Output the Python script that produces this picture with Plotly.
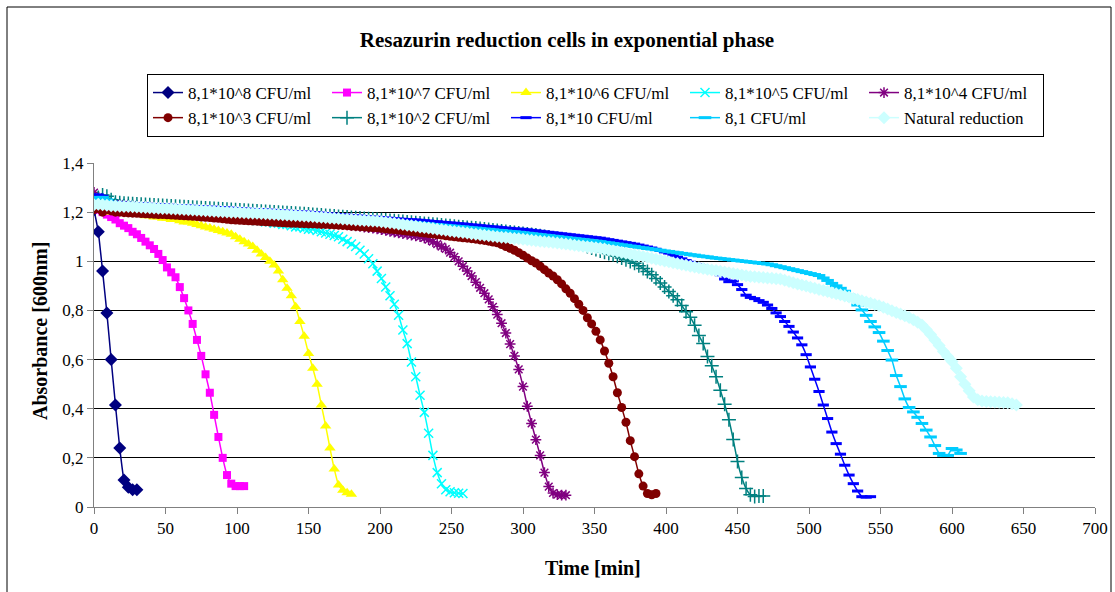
import plotly.graph_objects as go

# ---------------- data (absorbance read every 3 min) ----------------
STEP_MIN = 3

SERIES_NAMES = [
    "8,1*10^8 CFU/ml", "8,1*10^7 CFU/ml", "8,1*10^6 CFU/ml", "8,1*10^5 CFU/ml",
    "8,1*10^4 CFU/ml", "8,1*10^3 CFU/ml", "8,1*10^2 CFU/ml", "8,1*10 CFU/ml",
    "8,1 CFU/ml", "Natural reduction",
]

ABS_E8 = [1.21, 1.12, 0.96, 0.79, 0.60, 0.415, 0.24, 0.11, 0.08, 0.07, 0.07]

ABS_E7 = [1.22, 1.21, 1.20, 1.19, 1.18, 1.17, 1.155, 1.145, 1.135, 1.12, 1.11, 1.095,
          1.08, 1.065, 1.05, 1.03, 1.005, 0.975, 0.955, 0.935, 0.895, 0.85, 0.80, 0.745,
          0.68, 0.615, 0.54, 0.465, 0.375, 0.285, 0.20, 0.13, 0.095, 0.085, 0.085, 0.085]

ABS_E6 = [1.22, 1.21, 1.21, 1.205, 1.20, 1.20, 1.20, 1.195, 1.195, 1.19, 1.19, 1.19,
          1.185, 1.185, 1.18, 1.18, 1.175, 1.175, 1.17, 1.17, 1.165, 1.16, 1.16, 1.155,
          1.15, 1.145, 1.14, 1.135, 1.13, 1.125, 1.12, 1.115, 1.11, 1.10, 1.09, 1.08,
          1.07, 1.06, 1.045, 1.03, 1.015, 1.0, 0.985, 0.96, 0.925, 0.89, 0.86, 0.815,
          0.755, 0.695, 0.625, 0.565, 0.50, 0.415, 0.33, 0.24, 0.155, 0.09, 0.068, 0.058,
          0.052]

ABS_E5 = [1.26, 1.26, 1.25, 1.24, 1.24, 1.235, 1.235, 1.23, 1.23, 1.23, 1.225, 1.225,
          1.225, 1.22, 1.22, 1.22, 1.215, 1.215, 1.21, 1.21, 1.21, 1.205, 1.205, 1.20,
          1.20, 1.20, 1.195, 1.195, 1.19, 1.19, 1.185, 1.185, 1.18, 1.18, 1.175, 1.175,
          1.17, 1.17, 1.165, 1.165, 1.16, 1.16, 1.155, 1.155, 1.15, 1.15, 1.145, 1.14,
          1.14, 1.135, 1.13, 1.13, 1.125, 1.12, 1.115, 1.11, 1.105, 1.10, 1.09, 1.08,
          1.07, 1.06, 1.045, 1.03, 1.01, 0.99, 0.96, 0.93, 0.895, 0.86, 0.825, 0.78,
          0.72, 0.665, 0.59, 0.53, 0.455, 0.385, 0.30, 0.21, 0.14, 0.095, 0.07, 0.062,
          0.058, 0.056, 0.055]

ABS_E4 = [1.28, 1.26, 1.245, 1.24, 1.237, 1.235, 1.233, 1.231, 1.229, 1.228, 1.226, 1.225,
          1.223, 1.222, 1.22, 1.219, 1.217, 1.216, 1.214, 1.213, 1.211, 1.21, 1.208, 1.207,
          1.205, 1.204, 1.202, 1.201, 1.199, 1.198, 1.196, 1.195, 1.193, 1.192, 1.19, 1.189,
          1.187, 1.186, 1.184, 1.183, 1.181, 1.18, 1.178, 1.177, 1.175, 1.174, 1.172, 1.171,
          1.169, 1.168, 1.166, 1.164, 1.162, 1.16, 1.158, 1.156, 1.154, 1.152, 1.15, 1.148,
          1.146, 1.144, 1.142, 1.139, 1.137, 1.135, 1.132, 1.129, 1.126, 1.122, 1.119, 1.116,
          1.113, 1.11, 1.107, 1.104, 1.10, 1.095, 1.088, 1.08, 1.07, 1.06, 1.05, 1.035,
          1.018, 1.0, 0.98, 0.96, 0.94, 0.915, 0.892, 0.87, 0.845, 0.815, 0.783, 0.748,
          0.708, 0.663, 0.615, 0.56, 0.49, 0.41, 0.34, 0.274, 0.21, 0.14, 0.083, 0.057,
          0.05, 0.048, 0.048]

ABS_E3 = [1.21, 1.215, 1.20, 1.21, 1.205, 1.20, 1.20, 1.198, 1.197, 1.196, 1.195, 1.194,
          1.193, 1.192, 1.191, 1.19, 1.19, 1.189, 1.188, 1.187, 1.186, 1.185, 1.184, 1.183,
          1.182, 1.18, 1.179, 1.178, 1.176, 1.175, 1.173, 1.171, 1.169, 1.168, 1.167, 1.166,
          1.165, 1.164, 1.163, 1.162, 1.161, 1.16, 1.159, 1.158, 1.157, 1.156, 1.155, 1.155,
          1.154, 1.153, 1.152, 1.152, 1.151, 1.15, 1.15, 1.149, 1.148, 1.147, 1.146, 1.145,
          1.143, 1.142, 1.141, 1.14, 1.138, 1.137, 1.136, 1.134, 1.132, 1.13, 1.129, 1.127,
          1.125, 1.123, 1.121, 1.119, 1.117, 1.115, 1.113, 1.111, 1.109, 1.107, 1.104, 1.102,
          1.10, 1.098, 1.096, 1.094, 1.092, 1.09, 1.087, 1.085, 1.082, 1.078, 1.075, 1.068,
          1.06, 1.053, 1.045, 1.035, 1.025, 1.013, 1.002, 0.993, 0.98, 0.966, 0.952, 0.94,
          0.925, 0.908, 0.888, 0.87, 0.848, 0.825, 0.80, 0.77, 0.745, 0.715, 0.68, 0.635,
          0.585, 0.53, 0.465, 0.405, 0.345, 0.27, 0.205, 0.135, 0.085, 0.055, 0.05, 0.055]

ABS_E2 = [1.25, 1.26, 1.27, 1.265, 1.25, 1.24, 1.238, 1.236, 1.235, 1.234, 1.233, 1.232,
          1.231, 1.23, 1.229, 1.228, 1.227, 1.226, 1.225, 1.224, 1.223, 1.222, 1.221, 1.22,
          1.219, 1.218, 1.217, 1.216, 1.215, 1.214, 1.213, 1.212, 1.211, 1.21, 1.209, 1.208,
          1.207, 1.206, 1.205, 1.204, 1.203, 1.202, 1.201, 1.20, 1.199, 1.198, 1.197, 1.196,
          1.194, 1.193, 1.192, 1.19, 1.189, 1.188, 1.186, 1.185, 1.184, 1.182, 1.181, 1.18,
          1.178, 1.177, 1.176, 1.174, 1.173, 1.172, 1.17, 1.169, 1.168, 1.166, 1.165, 1.163,
          1.162, 1.16, 1.159, 1.157, 1.156, 1.154, 1.153, 1.151, 1.15, 1.148, 1.146, 1.145,
          1.143, 1.141, 1.14, 1.138, 1.136, 1.135, 1.133, 1.131, 1.129, 1.127, 1.125, 1.123,
          1.121, 1.119, 1.117, 1.115, 1.113, 1.111, 1.109, 1.107, 1.104, 1.101, 1.098, 1.095,
          1.092, 1.089, 1.086, 1.082, 1.077, 1.072, 1.066, 1.06, 1.054, 1.048, 1.042, 1.037,
          1.032, 1.027, 1.02, 1.013, 1.006, 0.999, 0.992, 0.982, 0.971, 0.958, 0.945, 0.93,
          0.912, 0.895, 0.877, 0.86, 0.843, 0.82, 0.795, 0.772, 0.74, 0.698, 0.665, 0.612,
          0.575, 0.53, 0.475, 0.418, 0.355, 0.275, 0.185, 0.12, 0.075, 0.05, 0.043, 0.045,
          0.045]

ABS_E1 = [1.27, 1.27, 1.265, 1.245, 1.24, 1.24, 1.238, 1.237, 1.236, 1.235, 1.235, 1.234,
          1.233, 1.232, 1.231, 1.23, 1.23, 1.229, 1.228, 1.227, 1.226, 1.225, 1.225, 1.224,
          1.223, 1.222, 1.221, 1.22, 1.22, 1.219, 1.218, 1.217, 1.216, 1.215, 1.214, 1.213,
          1.212, 1.211, 1.21, 1.21, 1.209, 1.208, 1.207, 1.206, 1.205, 1.204, 1.203, 1.202,
          1.201, 1.20, 1.20, 1.198, 1.197, 1.196, 1.194, 1.193, 1.192, 1.19, 1.189, 1.188,
          1.186, 1.185, 1.184, 1.182, 1.181, 1.18, 1.179, 1.178, 1.176, 1.175, 1.173, 1.172,
          1.171, 1.17, 1.169, 1.168, 1.167, 1.165, 1.164, 1.162, 1.161, 1.159, 1.158, 1.156,
          1.155, 1.153, 1.152, 1.15, 1.148, 1.147, 1.145, 1.143, 1.142, 1.14, 1.139, 1.137,
          1.135, 1.134, 1.132, 1.131, 1.13, 1.128, 1.126, 1.124, 1.122, 1.12, 1.118, 1.116,
          1.114, 1.112, 1.11, 1.108, 1.106, 1.104, 1.102, 1.10, 1.098, 1.096, 1.094, 1.091,
          1.088, 1.085, 1.082, 1.079, 1.076, 1.073, 1.07, 1.066, 1.062, 1.058, 1.054, 1.049,
          1.044, 1.038, 1.033, 1.025, 1.017, 1.01, 1.003, 0.996, 0.99, 0.985, 0.98, 0.975,
          0.97, 0.96, 0.945, 0.928, 0.917, 0.92, 0.905, 0.885, 0.862, 0.853, 0.848, 0.84,
          0.833, 0.822, 0.808, 0.79, 0.775, 0.755, 0.735, 0.712, 0.688, 0.66, 0.62, 0.57,
          0.52, 0.47, 0.415, 0.36, 0.305, 0.258, 0.215, 0.17, 0.13, 0.095, 0.065, 0.042,
          0.04, 0.042]

ABS_E0 = [1.25, 1.26, 1.26, 1.25, 1.24, 1.237, 1.235, 1.234, 1.233, 1.232, 1.231, 1.23,
          1.229, 1.228, 1.227, 1.226, 1.225, 1.224, 1.223, 1.222, 1.221, 1.22, 1.219, 1.218,
          1.217, 1.216, 1.215, 1.214, 1.213, 1.212, 1.211, 1.21, 1.209, 1.208, 1.207, 1.206,
          1.205, 1.204, 1.203, 1.202, 1.201, 1.20, 1.199, 1.198, 1.197, 1.196, 1.195, 1.194,
          1.193, 1.192, 1.19, 1.189, 1.188, 1.186, 1.185, 1.184, 1.182, 1.181, 1.18, 1.178,
          1.177, 1.176, 1.174, 1.173, 1.172, 1.17, 1.169, 1.167, 1.166, 1.165, 1.163, 1.162,
          1.16, 1.159, 1.158, 1.156, 1.155, 1.153, 1.152, 1.15, 1.149, 1.147, 1.146, 1.144,
          1.143, 1.141, 1.14, 1.138, 1.136, 1.135, 1.133, 1.131, 1.13, 1.128, 1.126, 1.125,
          1.123, 1.121, 1.12, 1.118, 1.116, 1.114, 1.112, 1.11, 1.108, 1.106, 1.104, 1.102,
          1.10, 1.098, 1.096, 1.094, 1.092, 1.09, 1.088, 1.086, 1.084, 1.082, 1.08, 1.077,
          1.075, 1.072, 1.07, 1.067, 1.065, 1.062, 1.06, 1.057, 1.055, 1.052, 1.05, 1.047,
          1.045, 1.042, 1.04, 1.037, 1.035, 1.032, 1.03, 1.027, 1.025, 1.022, 1.02, 1.018,
          1.015, 1.013, 1.011, 1.009, 1.007, 1.005, 1.003, 1.001, 0.999, 0.997, 0.995, 0.993,
          0.991, 0.989, 0.986, 0.982, 0.978, 0.974, 0.97, 0.966, 0.962, 0.958, 0.954, 0.95,
          0.946, 0.942, 0.932, 0.922, 0.91, 0.90, 0.89, 0.878, 0.862, 0.843, 0.822, 0.802,
          0.78, 0.755, 0.733, 0.71, 0.675, 0.637, 0.598, 0.535, 0.49, 0.44, 0.405, 0.387,
          0.365, 0.34, 0.313, 0.285, 0.25, 0.218, 0.21, 0.21, 0.238, 0.232, 0.218]

ABS_NATURAL = [1.23, 1.232, 1.23, 1.228, 1.226, 1.225, 1.224, 1.223, 1.223, 1.222, 1.221, 1.22,
               1.219, 1.218, 1.217, 1.216, 1.215, 1.215, 1.214, 1.213, 1.212, 1.211, 1.21, 1.209,
               1.208, 1.207, 1.206, 1.205, 1.204, 1.203, 1.202, 1.201, 1.20, 1.20, 1.199, 1.198,
               1.197, 1.196, 1.195, 1.194, 1.193, 1.192, 1.191, 1.19, 1.189, 1.188, 1.187, 1.186,
               1.185, 1.184, 1.183, 1.182, 1.18, 1.179, 1.178, 1.176, 1.175, 1.174, 1.172, 1.171,
               1.17, 1.168, 1.167, 1.166, 1.165, 1.164, 1.163, 1.161, 1.159, 1.157, 1.155, 1.152,
               1.15, 1.147, 1.145, 1.143, 1.14, 1.138, 1.135, 1.133, 1.13, 1.128, 1.126, 1.123,
               1.121, 1.119, 1.117, 1.115, 1.112, 1.11, 1.108, 1.106, 1.104, 1.102, 1.10, 1.098,
               1.097, 1.095, 1.093, 1.092, 1.09, 1.088, 1.086, 1.084, 1.082, 1.08, 1.078, 1.076,
               1.074, 1.072, 1.07, 1.068, 1.065, 1.063, 1.061, 1.059, 1.057, 1.055, 1.053, 1.05,
               1.046, 1.043, 1.04, 1.036, 1.033, 1.029, 1.026, 1.022, 1.019, 1.015, 1.012, 1.008,
               1.005, 1.001, 0.998, 0.994, 0.991, 0.987, 0.984, 0.98, 0.977, 0.974, 0.971, 0.968,
               0.965, 0.962, 0.959, 0.956, 0.953, 0.95, 0.947, 0.944, 0.941, 0.938, 0.937, 0.935,
               0.934, 0.932, 0.931, 0.929, 0.928, 0.923, 0.918, 0.913, 0.908, 0.903, 0.899, 0.894,
               0.89, 0.885, 0.881, 0.877, 0.872, 0.868, 0.864, 0.859, 0.855, 0.849, 0.844, 0.839,
               0.834, 0.829, 0.824, 0.819, 0.813, 0.806, 0.799, 0.792, 0.785, 0.778, 0.771, 0.762,
               0.752, 0.741, 0.722, 0.702, 0.68, 0.657, 0.633, 0.612, 0.592, 0.565, 0.53, 0.50,
               0.473, 0.448, 0.436, 0.431, 0.429, 0.428, 0.427, 0.426, 0.425, 0.424, 0.42, 0.415]

SERIES_VALUES = [ABS_E8, ABS_E7, ABS_E6, ABS_E5, ABS_E4, ABS_E3, ABS_E2, ABS_E1, ABS_E0, ABS_NATURAL]

X_TICKS = [0, 50, 100, 150, 200, 250, 300, 350, 400, 450, 500, 550, 600, 650, 700]
Y_TICKS = [0, 0.2, 0.4, 0.6, 0.8, 1.0, 1.2, 1.4]

# ---------------- styles ----------------
COLORS = ["#000080", "#FF00FF", "#FFFF00", "#00FFFF", "#800080",
          "#800000", "#008080", "#0000FF", "#00CCFF", "#CCFFFF"]
SYMBOLS = ["diamond", "square", "triangle-up", "x-thin-open", "asterisk-open",
           "circle", "cross-thin-open", "line-ew-open", "line-ew-open", "diamond"]
SIZES = [10, 8, 10, 9, 9, 9, 10, 8, 9, 10]
MLW = [0, 0, 0, 1.5, 1.5, 0, 1.5, 3, 3, 0]

FONT = "Liberation Serif, Times New Roman, serif"

W, H = 1115, 592
L, R, T, B = 94, 20, 163, 85
PW, PH = W - L - R, H - T - B


def px_to_paper_x(px):
    return (px - L) / PW


def px_to_paper_y(py):
    return (H - B - py) / PH


fig = go.Figure()
for name, vals, c, s, sz, mlw in zip(SERIES_NAMES, SERIES_VALUES, COLORS, SYMBOLS, SIZES, MLW):
    times = [STEP_MIN * i for i in range(len(vals))]
    fig.add_trace(go.Scatter(
        x=times, y=vals, name=name, mode="lines+markers",
        line=dict(color=c, width=1.5, shape="spline", smoothing=0.4),
        marker=dict(symbol=s, size=sz, color=c, line=dict(color=c, width=mlw)),
    ))

fig.update_layout(
    width=W, height=H,
    margin=dict(l=L, r=R, t=T, b=B, autoexpand=False),
    paper_bgcolor="white", plot_bgcolor="white",
    separators=",.",
    font=dict(family=FONT, size=17, color="black"),
    title=dict(text="<b>Resazurin reduction cells in exponential phase</b>",
               font=dict(family=FONT, size=21, color="black"),
               xref="container", yref="container",
               x=567 / W, xanchor="center", y=1 - 40 / H, yanchor="middle"),
    legend=dict(orientation="h", x=px_to_paper_x(147), y=px_to_paper_y(74),
                xanchor="left", yanchor="top",
                bgcolor="white", bordercolor="black", borderwidth=1,
                entrywidth=134, entrywidthmode="pixels",
                font=dict(family=FONT, size=17, color="black")),
    showlegend=True,
)

fig.update_xaxes(range=[0, 700], tickvals=X_TICKS, showgrid=False, zeroline=False,
                 showline=True, linecolor="#808080", linewidth=1,
                 ticks="outside", ticklen=6, tickcolor="#808080",
                 tickfont=dict(family=FONT, size=17, color="black"))
fig.update_yaxes(range=[0, 1.4], tickvals=Y_TICKS, showgrid=True, gridcolor="black",
                 gridwidth=1, zeroline=False,
                 showline=True, linecolor="#808080", linewidth=1,
                 ticks="outside", ticklen=6, tickcolor="#808080",
                 tickfont=dict(family=FONT, size=17, color="black"))

# axis titles
fig.add_annotation(text="<b>Time [min]</b>", xref="paper", yref="paper",
                   x=px_to_paper_x(593), y=px_to_paper_y(568),
                   xanchor="center", yanchor="middle", showarrow=False,
                   font=dict(family=FONT, size=20, color="black"))
fig.add_annotation(text="<b>Absorbance [600nm]</b>", xref="paper", yref="paper",
                   x=px_to_paper_x(40), y=px_to_paper_y(331), textangle=-90,
                   xanchor="center", yanchor="middle", showarrow=False,
                   font=dict(family=FONT, size=20, color="black"))

# chart-area frame
fig.add_shape(type="rect", xref="paper", yref="paper",
              x0=px_to_paper_x(7), x1=px_to_paper_x(1111),
              y0=px_to_paper_y(600), y1=px_to_paper_y(7),
              line=dict(color="black", width=1), fillcolor="rgba(0,0,0,0)", layer="below")

fig.write_html("out.html",
               config={"displayModeBar": False},
               post_script="document.body.style.margin='0';document.body.style.padding='0';"
                           "document.body.style.overflow='hidden';")
